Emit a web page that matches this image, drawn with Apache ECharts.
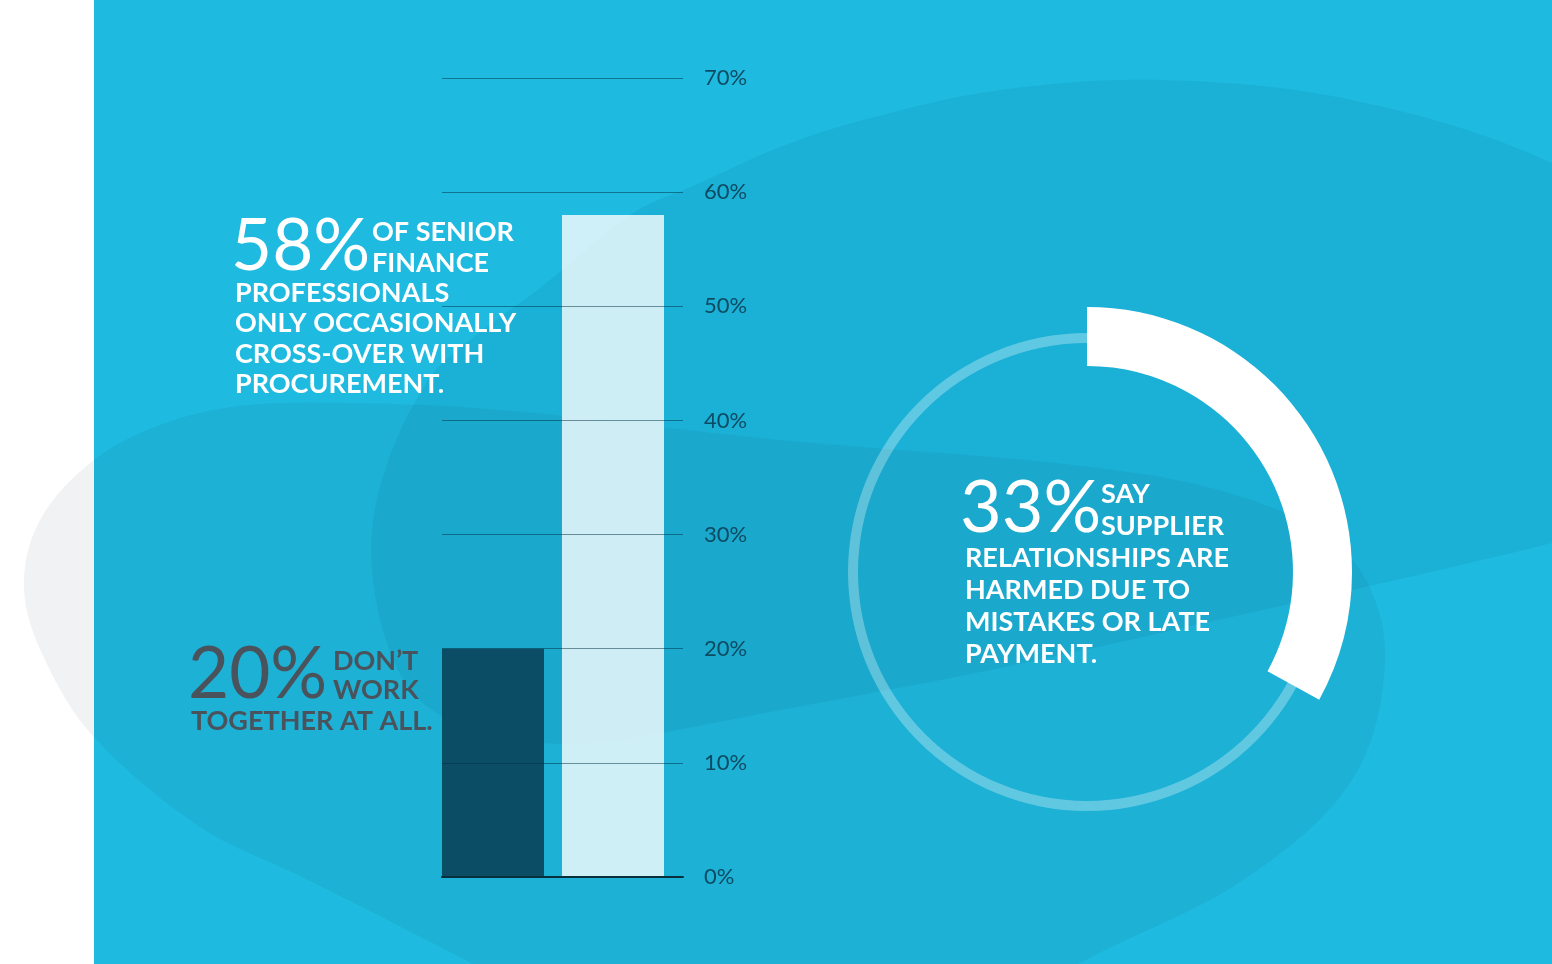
<!DOCTYPE html>
<html><head><meta charset="utf-8">
<script src="https://cdn.jsdelivr.net/npm/echarts@6/dist/echarts.min.js"></script>
<style>html,body{margin:0;padding:0;background:#fff}#c{width:1552px;height:964px}</style>
</head><body><div id="c"></div>
<script>
// ---- data ----
const categories = ['Don’t work together at all', 'Only occasionally cross-over'];
const barValues = [20, 58];
const yTickValues = [0, 10, 20, 30, 40, 50, 60, 70];
const donutLabels = ['Relationships harmed', 'Not harmed'];
const donutValues = [33, 67];
const leftHeadline = ['OF SENIOR', 'FINANCE'];
const leftBody = ['PROFESSIONALS', 'ONLY OCCASIONALLY', 'CROSS-OVER WITH', 'PROCUREMENT.'];
const lowHeadline = ['DON’T', 'WORK'];
const lowBody = ['TOGETHER AT ALL.'];
const rightHeadline = ['SAY', 'SUPPLIER'];
const rightBody = ['RELATIONSHIPS ARE', 'HARMED DUE TO', 'MISTAKES OR LATE', 'PAYMENT.'];

// ---- styles ----
const barColors = ['#0B4D64', 'rgba(255,255,255,0.79)'];
const FONT = 'Lato, "Open Sans", sans-serif';

function txt(text, x, y, size, weight, color) {
  return {
    type: 'text', x: x, y: y, z: 20, silent: true,
    style: {
      text: text, fill: color, font: weight + ' ' + size + 'px ' + FONT,
      textAlign: 'left', align: 'left', textVerticalAlign: 'middle', verticalAlign: 'middle'
    }
  };
}

const shapeB = [[24,589],[40,520],[94,460],[160,425],[240,406],[350,403],[500,410],[780,440],[1135,473],[1290,515],[1360,570],[1385,660],[1352,780],[1243,880],[1080,963],[950,1040],[650,1060],[473,964],[298,875],[200,827],[94,737],[45,660]];
const shapeA = [[372,570],[382,480],[428,380],[470,340],[540,288],[633,213],[700,183],[780,147],[863,120],[1000,90],[1162,80],[1352,100],[1552,163],[1700,260],[1760,420],[1660,510],[1552,543],[1240,615],[1000,668],[780,710],[600,742],[520,740],[440,715],[398,670]];

const graphics = [
  { type: 'rect', z: -10, silent: true, shape: { x: 94, y: 0, width: 1458, height: 964 }, style: { fill: '#1EBAE0' } },
  { type: 'polygon', z: -9, silent: true, shape: { points: shapeB, smooth: 0.35 }, style: { fill: 'rgba(22,38,72,0.06)' } },
  { type: 'polygon', z: -8, silent: true, shape: { points: shapeA, smooth: 0.35 }, style: { fill: 'rgba(0,50,90,0.07)' } }
];

// left (58%) block
graphics.push(txt(barValues[1] + '%', 231, 247, 71, 400, '#FFFFFF'));
leftHeadline.forEach((t, i) => graphics.push(txt(t, 372, 232 + i * 31, 27, 700, '#FFFFFF')));
leftBody.forEach((t, i) => graphics.push(txt(t, 235, 293 + i * 30.4, 27, 700, '#FFFFFF')));
// low (20%) block
graphics.push(txt(barValues[0] + '%', 188, 675, 71, 400, '#4A535B'));
lowHeadline.forEach((t, i) => graphics.push(txt(t, 333, 661 + i * 29.5, 27, 700, '#4A535B')));
lowBody.forEach((t, i) => graphics.push(txt(t, 191, 721 + i * 30, 27, 700, '#4A535B')));
// right (33%) block
graphics.push(txt(donutValues[0] + '%', 960, 509, 72, 400, '#FFFFFF'));
rightHeadline.forEach((t, i) => graphics.push(txt(t, 1101, 494 + i * 32, 27, 700, '#FFFFFF')));
rightBody.forEach((t, i) => graphics.push(txt(t, 965, 558 + i * 32, 27, 700, '#FFFFFF')));

const chart = echarts.init(document.getElementById('c'), null, { renderer: 'canvas' });
chart.setOption({
  backgroundColor: '#FFFFFF',
  animation: false,
  graphic: { elements: graphics },
  grid: [
    { left: 442, width: 241, top: 78, bottom: 87 },
    { left: 433, width: 240, top: 78, bottom: 87 }
  ],
  xAxis: [
    { gridIndex: 0, type: 'category', data: categories, z: 10,
      axisLine: { show: true, lineStyle: { color: '#08303C', width: 2 } },
      axisTick: { show: false }, axisLabel: { show: false }, splitLine: { show: false } },
    { gridIndex: 1, type: 'category', data: categories, show: false }
  ],
  yAxis: [
    { gridIndex: 0, type: 'value', position: 'right', z: 10,
      min: yTickValues[0], max: yTickValues[yTickValues.length - 1], interval: yTickValues[1] - yTickValues[0],
      axisLine: { show: false }, axisTick: { show: false },
      axisLabel: { margin: 21, color: '#0D4B62', fontSize: 22, fontFamily: FONT, padding: [3, 0, 0, 0], formatter: '{value}%' },
      splitLine: { show: true, lineStyle: { color: 'rgba(0,45,65,0.5)', width: 1 } } },
    { gridIndex: 1, type: 'value', show: false,
      min: yTickValues[0], max: yTickValues[yTickValues.length - 1], interval: yTickValues[1] - yTickValues[0] }
  ],
  series: [
    { type: 'bar', xAxisIndex: 1, yAxisIndex: 1, barWidth: 102, silent: true, z: 2,
      data: barValues.map((v, i) => ({ value: v, itemStyle: { color: barColors[i] } })) },
    { type: 'pie', center: [1087, 572], radius: [229, 239], silent: true, z: 3,
      label: { show: false }, labelLine: { show: false }, emphasis: { disabled: true },
      data: [{ name: 'total', value: donutValues[0] + donutValues[1], itemStyle: { color: 'rgba(255,255,255,0.3)' } }] },
    { type: 'pie', center: [1087, 572], radius: [206, 265], startAngle: 90, clockwise: true, silent: true, z: 4,
      label: { show: false }, labelLine: { show: false }, emphasis: { disabled: true },
      data: donutValues.map((v, i) => ({ name: donutLabels[i], value: v,
        itemStyle: { color: i === 0 ? '#FFFFFF' : 'rgba(0,0,0,0)' } })) }
  ]
});
</script></body></html>
